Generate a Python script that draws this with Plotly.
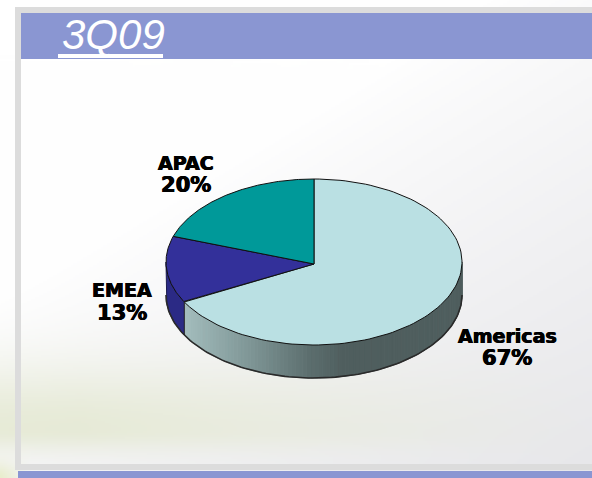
import base64, math, struct, zlib
import numpy as np
import plotly.graph_objects as go

# ---- data ----
categories = ["Americas", "EMEA", "APAC"]
shares = [67, 13, 20]
top_colors = ["#bae0e3", "#33309a", "#009999"]
title_text = "3Q09"

W, H = 592, 478
CX, CY, RX, RY, DEPTH = 314, 262, 148, 83, 33


def png_uri(rgb):
    h, w, _ = rgb.shape
    raw = b"".join(b"\x00" + rgb[r].tobytes() for r in range(h))
    def chunk(t, d):
        return struct.pack(">I", len(d)) + t + d + struct.pack(">I", zlib.crc32(t + d))
    data = (b"\x89PNG\r\n\x1a\n"
            + chunk(b"IHDR", struct.pack(">IIBBBBB", w, h, 8, 2, 0, 0, 0))
            + chunk(b"IDAT", zlib.compress(raw, 9))
            + chunk(b"IEND", b""))
    return "data:image/png;base64," + base64.b64encode(data).decode()


def background():
    ys, xs = np.mgrid[0:H // 2, 0:W // 2] * 2.0
    white = np.array([255.0, 255.0, 255.0])
    img = np.ones((H // 2, W // 2, 3)) * white
    # soft grey towards the lower right
    g = np.clip((xs / W) * 0.6 + (ys / H) * 0.8 - 0.5, 0, 1) ** 0.8
    img = img * (1 - g[..., None] * 0.85) + np.array([224.0, 224.0, 228.0]) * g[..., None] * 0.85
    # green band low on the left
    fade = np.clip(1.15 - xs / 520, 0, 1)
    b = np.where(ys > 428, np.exp(-((ys - 428) / 22.0) ** 2), np.exp(-((ys - 428) / 62.0) ** 2)) * fade
    img = img * (1 - b[..., None] * 0.75) + np.array([226.0, 231.0, 205.0]) * b[..., None] * 0.75
    # green foot at the far lower left
    foot = np.exp(-((ys - 478) / 16.0) ** 2) * np.clip(1 - xs / 30, 0, 1)
    img = img * (1 - foot[..., None] * 0.8) + np.array([230.0, 236.0, 195.0]) * foot[..., None] * 0.8
    return img.clip(0, 255).astype(np.uint8)


def rim(t_deg, extra=0.0):
    t = np.radians(t_deg)
    return CX + RX * np.sin(t), CY - RY * np.cos(t) + extra


def side_shade(x):
    stops_x = [186, 250, 310, 345, 462]
    stops = [(163, 188, 188), (127, 150, 150), (92, 110, 110), (79, 94, 94), (79, 94, 94)]
    return "rgb(%d,%d,%d)" % tuple(np.interp(x, stops_x, [s[i] for s in stops]) for i in range(3))


fig = go.Figure()

# slices run clockwise from twelve o'clock
edges = np.cumsum([0] + shares) / sum(shares) * 360.0


def poly(xs, ys, fill, line="rgba(0,0,0,0)", width=0):
    fig.add_trace(go.Scatter(x=list(xs), y=list(ys), mode="lines", fill="toself", fillcolor=fill,
                             line=dict(color=line, width=width), hoverinfo="skip", showlegend=False))


# side wall: only the front half (90..270 degrees) is visible
for i, c in enumerate(categories):
    a0, a1 = max(edges[i], 90.0), min(edges[i + 1], 270.0)
    if a1 <= a0:
        continue
    if c == "Americas":
        n = int((a1 - a0) / 1.5) + 1
        steps = np.linspace(a0, a1, n + 1)
        for s0, s1 in zip(steps[:-1], steps[1:]):
            x0, y0 = rim(s0)
            x1, y1 = rim(s1)
            col = side_shade((x0 + x1) / 2)
            poly([x0, x1, x1, x0, x0], [y0, y1, y1 + DEPTH, y0 + DEPTH, y0], col, col, 1)
    else:
        ts = np.linspace(a0, a1, 30)
        xt, yt = rim(ts)
        xb, yb = rim(ts[::-1], DEPTH)
        poly(list(xt) + list(xb), list(yt) + list(yb), "#2b2a85", "#1c1c50", 1)

# bottom rim outline
ts = np.linspace(90, 270, 120)
xb, yb = rim(ts, DEPTH)
fig.add_trace(go.Scatter(x=list(xb), y=list(yb), mode="lines", line=dict(color="#2a2a2a", width=1.6),
                         hoverinfo="skip", showlegend=False))
for a in [edges[1]]:
    x0, y0 = rim(a)
    fig.add_trace(go.Scatter(x=[x0, x0], y=[y0, y0 + DEPTH], mode="lines", line=dict(color="#222", width=1),
                             hoverinfo="skip", showlegend=False))

# top faces
for i, c in enumerate(categories):
    ts = np.linspace(edges[i], edges[i + 1], 120)
    xt, yt = rim(ts)
    poly([CX] + list(xt) + [CX], [CY + 2] + list(yt) + [CY + 2], top_colors[i], "#111111", 1)

grey = "#dcdcdc"
blue = "#8a96d2"
shapes = []
for x0, y0, x1, y1, col in [
    (15, 7, W, 13, grey), (15, 7, 21, 470, grey), (15, 464, W, 470, grey),
    (21, 13, W, 59, blue), (18, 471, W, H, blue), (58, 54, 163, 58, "#ffffff"),
]:
    shapes.append(dict(type="rect", xref="x", yref="y", x0=x0, y0=y0, x1=x1, y1=y1,
                       fillcolor=col, line=dict(width=0), layer="above"))

shadow = "0.6px 0 0.6px #000, -0.4px 0 0.6px #000"
name_font = dict(family="DejaVu Sans", size=19, color="#000000", weight="bold", shadow=shadow)
pct_font = dict(family="DejaVu Sans", size=21, color="#000000", weight="bold", shadow=shadow)
label_pos = {"Americas": (507, 336, 358), "EMEA": (122, 290, 313), "APAC": (186, 163, 185)}
annotations = []
for c, v in zip(categories, shares):
    x, y0, y1 = label_pos[c]
    for txt, y, fnt in ((c, y0, name_font), (f"{v}%", y1, pct_font)):
        annotations.append(dict(x=x, y=y, xref="x", yref="y", text=txt, showarrow=False,
                                font=fnt, align="center", xanchor="center", yanchor="middle"))
annotations.append(dict(x=113, y=34, xref="x", yref="y", text=f"<i>{title_text}</i>", showarrow=False,
                        font=dict(family="Liberation Sans", size=42, color="#ffffff"),
                        xanchor="center", yanchor="middle"))

fig.update_layout(
    width=W, height=H, autosize=False,
    margin=dict(l=0, r=0, t=0, b=0),
    paper_bgcolor="#ffffff", plot_bgcolor="rgba(0,0,0,0)",
    showlegend=False,
    xaxis=dict(range=[0, W], visible=False, fixedrange=True),
    yaxis=dict(range=[H, 0], visible=False, fixedrange=True),
    shapes=shapes, annotations=annotations,
    images=[dict(source=png_uri(background()), xref="x", yref="y", x=0, y=0, sizex=W, sizey=H,
                 sizing="stretch", layer="below", xanchor="left", yanchor="top")],
)
fig.write_html("out.html", config=dict(displayModeBar=False),
               post_script="document.body.style.margin='0';document.documentElement.style.overflow='hidden';")
